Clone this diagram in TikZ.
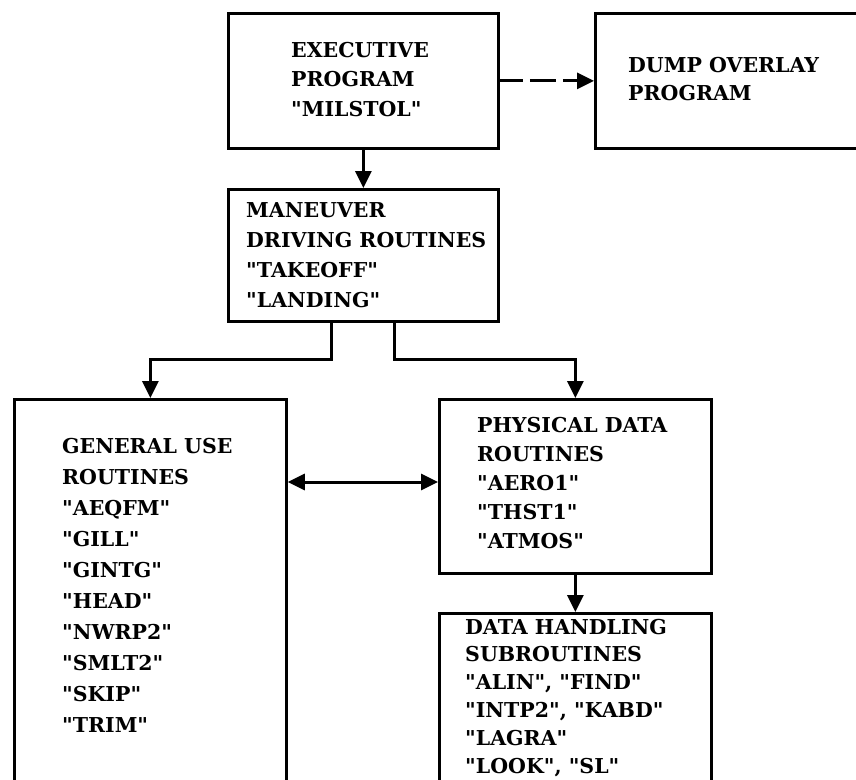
\documentclass[tikz,border=0pt]{standalone}
\usepackage{fontspec}
\newfontfamily\diagfont{DejaVu Serif}[FakeStretch=1.0]
\usetikzlibrary{arrows.meta,calc}

\tikzset{
  box/.style={draw, line width=2.8pt, rectangle, inner sep=0pt, anchor=north west},
  lbl/.style={anchor=base west, inner sep=0pt, font=\diagfont\bfseries\fontsize{20.5}{20.5}\selectfont},
  arr/.style={line width=3pt, -{Triangle[length=17pt,width=16pt]}}
}
% multi-line label with a given line pitch, aligned on its first baseline
\newcommand{\lines}[2]{\parbox[t]{380pt}{\raggedright\baselineskip=#1\relax #2\par}}

\begin{document}
\begin{tikzpicture}[x=1pt,y=-1pt]
\path[use as bounding box] (0,0) rectangle (856,779);
\clip (0,0) rectangle (856,779);

% boxes
\node[box, minimum width=270pt, minimum height=135pt] (exec) at (227,12) {};
\node[box, minimum width=280pt, minimum height=135pt] (dump) at (594,12) {};
\node[box, minimum width=270pt, minimum height=132pt] (man) at (227,188) {};
\node[box, minimum width=272pt, minimum height=420pt] (gen) at (13,398) {};
\node[box, minimum width=272pt, minimum height=174pt] (phys) at (438,398) {};
\node[box, minimum width=272pt, minimum height=200pt] (data) at (438,612) {};

% texts
\node[lbl] (exectxt) at (291,57) {\lines{29.7pt}{EXECUTIVE\\PROGRAM\\"MILSTOL"}};
\node[lbl] (dumptxt) at (628,72) {\lines{28.5pt}{DUMP OVERLAY\\PROGRAM}};
\node[lbl] (mantxt) at (246,217) {\lines{30pt}{MANEUVER\\DRIVING ROUTINES\\"TAKEOFF"\\"LANDING"}};
\node[lbl] (gentxt) at (62,453) {\lines{31pt}{GENERAL USE\\ROUTINES\\"AEQFM"\\"GILL"\\"GINTG"\\"HEAD"\\"NWRP2"\\"SMLT2"\\"SKIP"\\"TRIM"}};
\node[lbl] (phystxt) at (477,432) {\lines{29pt}{PHYSICAL DATA\\ROUTINES\\"AERO1"\\"THST1"\\"ATMOS"}};
\node[lbl] (datatxt) at (465,634) {\lines{27.8pt}{DATA HANDLING\\SUBROUTINES\\"ALIN", "FIND"\\"INTP2", "KABD"\\"LAGRA"\\"LOOK", "SL"}};

% connectors
\coordinate (jy) at (0,359);
\coordinate (ya) at (0,482);

\draw[arr] (exec.south) -- (man.north);
\draw[arr, dash pattern=on 23pt off 7pt on 26pt off 7pt on 60pt] (exec.east) -- (dump.west);
\draw[arr] ([xshift=-32pt]man.south) |- (gen.north |- jy) -- (gen.north);
\draw[arr] ([xshift=31pt]man.south) |- (phys.north |- jy) -- (phys.north);
\draw[line width=3pt, {Triangle[length=17pt,width=16pt]}-{Triangle[length=17pt,width=16pt]}] (gen.east |- ya) -- (phys.west |- ya);
\draw[arr] (phys.south) -- (data.north);
\end{tikzpicture}
\end{document}
